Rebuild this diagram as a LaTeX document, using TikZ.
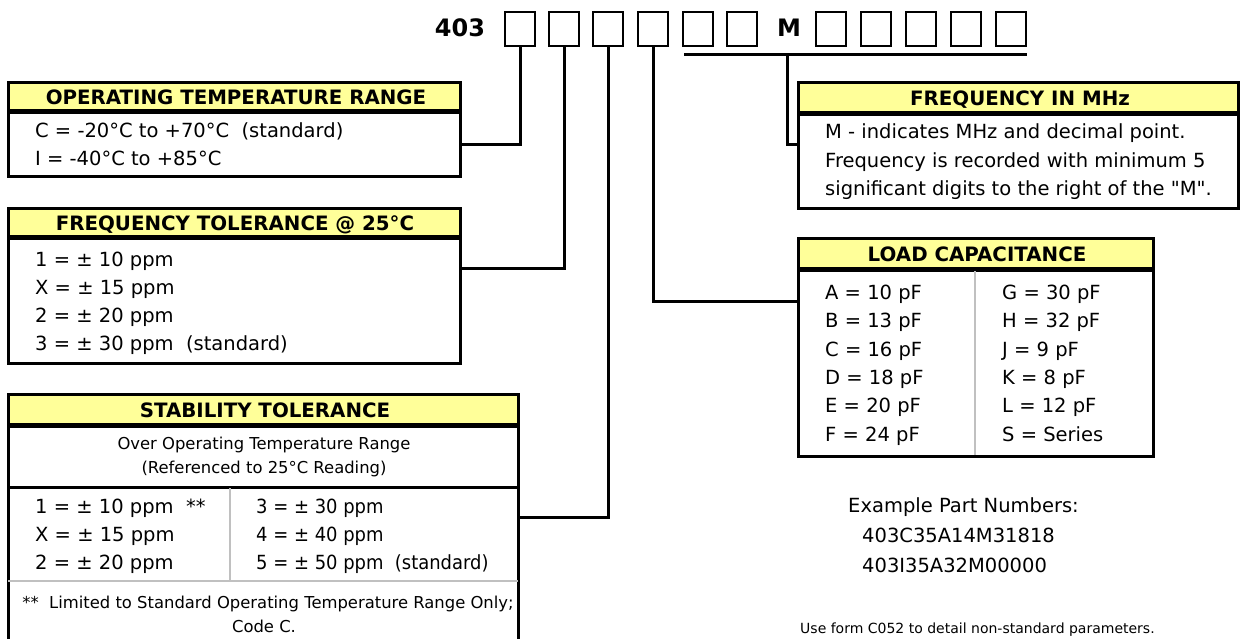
\documentclass[tikz,border=0pt]{standalone}
\usepackage{fontspec}
\setmainfont{DejaVu Sans}
\newfontfamily\rawfont{DejaVu Sans}
\definecolor{hdr}{HTML}{FFFF99}
\definecolor{divgray}{HTML}{C0C0C0}
\begin{document}
\begin{tikzpicture}[x=1pt,y=-1pt,
  panel/.style={draw, line width=3pt, rectangle, inner sep=0pt, outer sep=0pt, anchor=north west},
  head/.style={panel, fill=hdr},
  conn/.style={line width=3pt},
  sep/.style={line width=5pt},
  grayline/.style={draw=divgray, line width=2.5pt},
  cell/.style={draw, line width=2.5pt, rectangle, inner sep=0pt, outer sep=0pt, anchor=center, minimum width=30pt, minimum height=34pt},
  big/.style={anchor=base, inner sep=0pt, font=\fontsize{24}{28}\selectfont\bfseries},
  txt/.style={anchor=base west, inner sep=0pt, font=\fontsize{19.5}{23}\selectfont},
  ctxt/.style={anchor=base, inner sep=0pt, font=\fontsize{16.4}{20}\selectfont},
  htxt/.style={anchor=base, inner sep=0pt, font=\fontsize{19.8}{23}\selectfont\bfseries},
  smtxt/.style={anchor=base west, inner sep=0pt, font=\fontsize{14}{17}\selectfont}]
\useasboundingbox (0,0) rectangle (1244,639);

% part number code
\node[big] (code) at (460,37) {403};
\node[cell] (b1) at (520,29) {};
\node[cell] (b2) at (564,29) {};
\node[cell] (b3) at (608,29) {};
\node[cell] (b4) at (653,29) {};
\node[cell] (b5) at (698,29) {};
\node[cell] (b6) at (742,29) {};
\node[big] (mm) at (789,37) {M};
\node[cell] (b7) at (831,29) {};
\node[cell] (b8) at (876,29) {};
\node[cell] (b9) at (921,29) {};
\node[cell] (b10) at (966,29) {};
\node[cell] (b11) at (1011,29) {};
\coordinate (ulL) at (684,55);
\coordinate (ulR) at (1027,55);
\coordinate (ulM) at (787,55);
\draw[conn] (ulL) -- (ulR);

% operating temperature range
\node[head, minimum width=452pt, minimum height=29pt] (ophead) at (8,83) {};
\node[panel, minimum width=452pt, minimum height=65pt] (opbody) at (8,112) {};
\draw[sep] (opbody.north west) -- (opbody.north east);
\node[htxt] (opt) at (236,105) {OPERATING TEMPERATURE RANGE};
\node[txt] (op1) at (35,138) {C = -20°C to +70°C\ \ (standard)};
\node[txt] (op2) at (35,166) {I = -40°C to +85°C};

% frequency tolerance
\node[head, minimum width=452pt, minimum height=29pt] (fthead) at (8,208) {};
\node[panel, minimum width=452pt, minimum height=126pt] (ftbody) at (8,237) {};
\draw[sep] (ftbody.north west) -- (ftbody.north east);
\node[htxt] (ftt) at (235,230) {FREQUENCY TOLERANCE @ 25°C};
\node[txt] (ft1) at (35,266) {1 = ± 10 ppm};
\node[txt] (ft2) at (35,294) {X = ± 15 ppm};
\node[txt] (ft3) at (35,322) {2 = ± 20 ppm};
\node[txt] (ft4) at (35,350) {3 = ± 30 ppm\ \ (standard)};

% stability tolerance
\node[head, minimum width=510pt, minimum height=31pt] (sthead) at (8,394) {};
\node[panel, minimum width=510pt, minimum height=217pt] (stbody) at (8,425) {};
\draw[sep] (stbody.north west) -- (stbody.north east);
\draw[conn] (8,487) -- (518,487);
\draw[grayline] (8,581) -- (518,581);
\draw[grayline] (230,488) -- (230,580);
\node[htxt] (stt) at (265,417) {STABILITY TOLERANCE};
\node[ctxt] (st1) at (264,449) {Over Operating Temperature Range};
\node[ctxt] (st2) at (264,473) {(Referenced to 25°C Reading)};
\node[txt] (st3) at (35,513) {1 = ± 10 ppm\ \ **};
\node[txt] (st4) at (35,541) {X = ± 15 ppm};
\node[txt] (st5) at (35,569) {2 = ± 20 ppm};
\node[txt] (st6) at (256,513) {\scalebox{0.92}[1]{3 = ± 30 ppm}};
\node[txt] (st7) at (256,541) {\scalebox{0.92}[1]{4 = ± 40 ppm}};
\node[txt] (st8) at (256,569) {\scalebox{0.92}[1]{5 = ± 50 ppm\ \ (standard)}};
\node[ctxt] (st9) at (268,608) {**\ \ Limited to Standard Operating Temperature Range Only;};
\node[ctxt] (st10) at (264,632) {Code C.};

% frequency in MHz
\node[head, minimum width=440pt, minimum height=31pt] (mhzhead) at (798,83) {};
\node[panel, minimum width=440pt, minimum height=94pt] (mhzbody) at (798,114) {};
\draw[sep] (mhzbody.north west) -- (mhzbody.north east);
\node[htxt] (mhzt) at (1020,106) {FREQUENCY IN MHz};
\node[txt] (mz1) at (825,139) {M - indicates MHz and decimal point.};
\node[txt] (mz2) at (825,168) {Frequency is recorded with minimum 5};
\node[txt] (mz3) at (825,196) {significant digits to the right of the {\rawfont"}M{\rawfont"}.};

% load capacitance
\node[head, minimum width=355pt, minimum height=31pt] (lchead) at (798,238) {};
\node[panel, minimum width=355pt, minimum height=187pt] (lcbody) at (798,269) {};
\draw[sep] (lcbody.north west) -- (lcbody.north east);
\draw[grayline] (975,271) -- (975,455);
\node[htxt] (lct) at (977,261) {LOAD CAPACITANCE};
\node[txt] (la) at (825,299) {A = 10 pF};
\node[txt] (lb) at (825,327) {B = 13 pF};
\node[txt] (lc) at (825,356) {C = 16 pF};
\node[txt] (ld) at (825,384) {D = 18 pF};
\node[txt] (le) at (825,412) {E = 20 pF};
\node[txt] (lf) at (825,441) {F = 24 pF};
\node[txt] (lg) at (1002,299) {G = 30 pF};
\node[txt] (lh) at (1002,327) {H = 32 pF};
\node[txt] (lj) at (1002,356) {J = 9 pF};
\node[txt] (lk) at (1002,384) {K = 8 pF};
\node[txt] (ll) at (1002,412) {L = 12 pF};
\node[txt] (ls) at (1002,441) {S = Series};

% examples
\node[txt] (ex) at (848,512) {Example Part Numbers:};
\node[txt] (ex1) at (862,542) {403C35A14M31818};
\node[txt] (ex2) at (862,572) {403I35A32M00000};
\node[smtxt] (form) at (800,633) {Use form C052 to detail non-standard parameters.};

% connectors
\draw[conn] (b1.south) |- (opbody.east);
\draw[conn] (b2.south) |- ([yshift=-31pt]ftbody.north east);
\draw[conn] (b3.south) |- ([yshift=16.5pt]stbody.east);
\draw[conn] (b4.south) |- ([yshift=61.5pt]lcbody.west);
\draw[conn] (ulM) |- ([yshift=16pt]mhzbody.west);
\end{tikzpicture}
\end{document}
